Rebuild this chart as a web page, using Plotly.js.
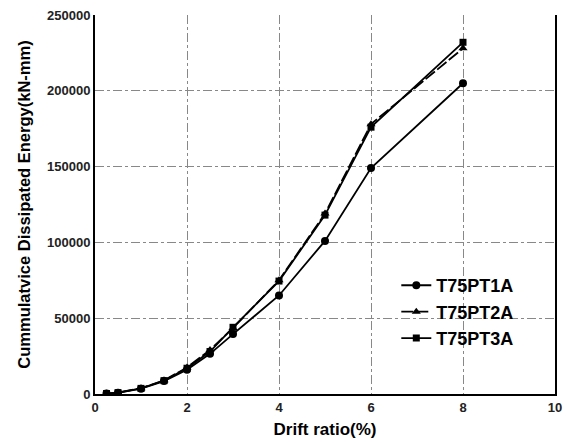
<!DOCTYPE html>
<html><head><meta charset="utf-8">
<script src="https://cdn.plot.ly/plotly-3.0.1.min.js"></script>
<style>body{margin:0;background:#fff}#c{width:567px;height:443px}</style>
</head><body><div id="c"></div>
<script>
const drift = [0.25, 0.5, 1, 1.5, 2, 2.5, 3, 4, 5, 6, 8];
const t1a = [300, 800, 3500, 8500, 16000, 26500, 39500, 65000, 101000, 149000, 205000];
const t2a = [300, 900, 3800, 9000, 17500, 29000, 43500, 75000, 119000, 178000, 228000];
const t3a = [300, 900, 3700, 8800, 17000, 28000, 44000, 74500, 118000, 176000, 232000];
const names = ['T75PT1A', 'T75PT2A', 'T75PT3A'];

const traces = [
  {x: drift, y: t1a, name: names[0], mode: 'lines+markers',
   line: {color: '#000', width: 1.8}, marker: {symbol: 'circle', size: 8, color: '#000'}},
  {x: drift, y: t2a, name: names[1], mode: 'lines+markers',
   line: {color: '#000', width: 1.8, dash: '12px,3px'}, marker: {symbol: 'triangle-up', size: 8, color: '#000'}},
  {x: drift, y: t3a, name: names[2], mode: 'lines+markers',
   line: {color: '#000', width: 1.8}, marker: {symbol: 'square', size: 7, color: '#000'}}
];
const layout = {
  width: 567, height: 443,
  margin: {l: 95, r: 12, t: 15, b: 49},
  paper_bgcolor: '#fff', plot_bgcolor: '#fff',
  font: {family: 'Arial, Liberation Sans, sans-serif', color: '#000'},
  showlegend: true,
  legend: {x: 0.655, y: 0.335, xanchor: 'left', yanchor: 'top', bgcolor: 'rgba(0,0,0,0)',
    font: {size: 18, color: '#000', weight: 'bold'}, tracegroupgap: 0, itemwidth: 30},
  xaxis: {range: [0, 10], dtick: 2, tick0: 0, showgrid: true, gridcolor: '#888', griddash: 'dashdot', gridwidth: 1,
    showline: true, linecolor: '#000', linewidth: 2, zeroline: false, ticks: '',
    tickfont: {size: 13, weight: 'bold', color: '#222'},
    title: {text: 'Drift ratio(%)', font: {size: 17, weight: 'bold'}, standoff: 10}},
  yaxis: {range: [0, 250000], dtick: 50000, showgrid: true, gridcolor: '#888', griddash: 'dashdot', gridwidth: 1,
    showline: true, linecolor: '#000', linewidth: 2, mirror: true, zeroline: false, ticks: '',
    tickfont: {size: 13, weight: 'bold', color: '#222'}, tickformat: 'd',
    title: {text: 'Cummulatvice Dissipated Energy(kN-mm)', font: {size: 16.5, weight: 'bold'}, standoff: 12}}
};
Plotly.newPlot('c', traces, layout, {displayModeBar: false, staticPlot: true});
</script></body></html>
